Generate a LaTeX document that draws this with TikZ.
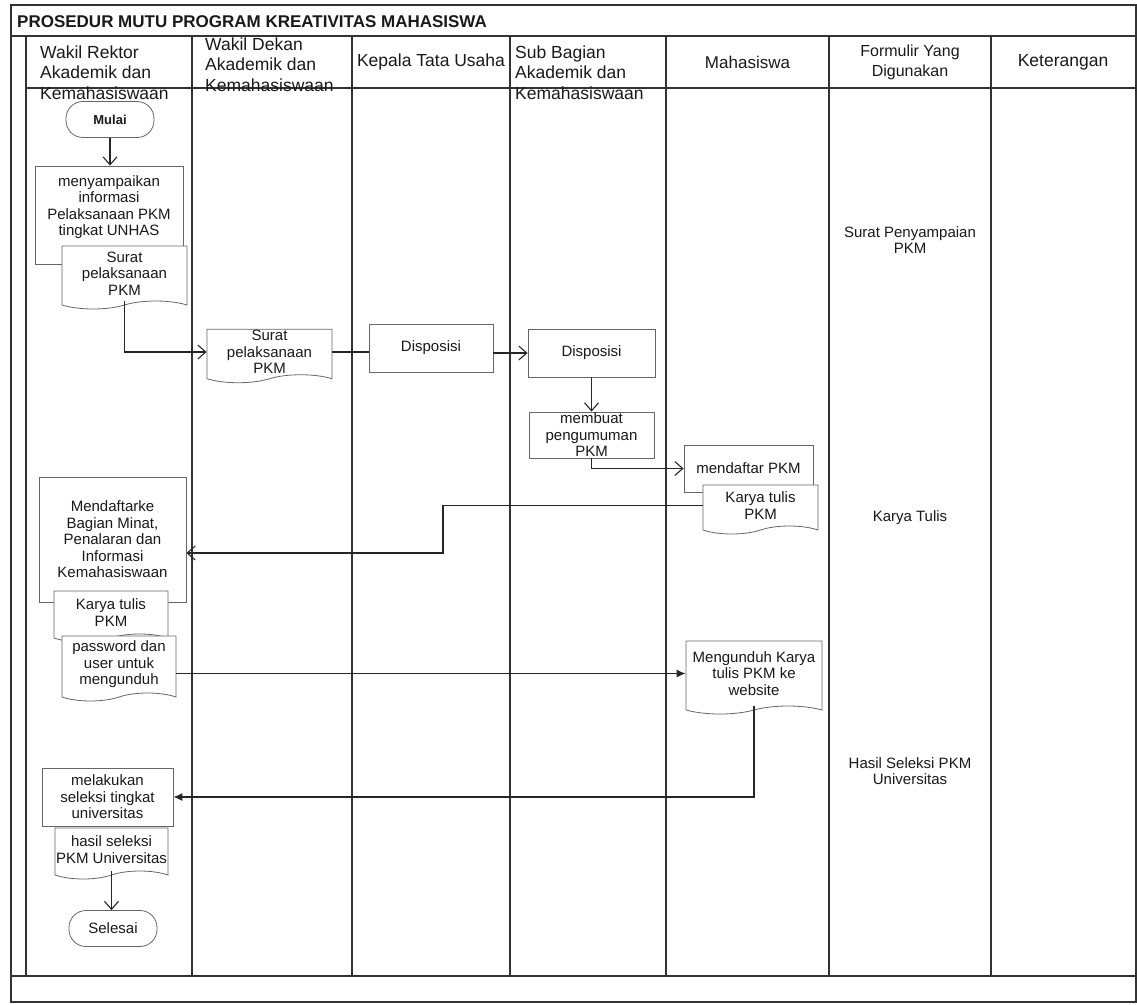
\documentclass[tikz,border=0pt]{standalone}
\usepackage{fontspec}
\setmainfont{Liberation Sans}
\usetikzlibrary{arrows.meta,shapes.symbols}

\begin{document}
\begin{tikzpicture}[x=1pt,y=-1pt,
  lane/.style={line width=1.2pt,draw=black!80},
  head/.style={inner sep=0pt,font=\fontsize{17.5}{20.5}\selectfont,text=black!90},
  proc/.style={draw=black!60,fill=white,line width=0.8pt,inner sep=1pt,align=center,
    font=\fontsize{15}{16.5}\selectfont,text=black!90},
  docu/.style={proc,tape,tape bend top=none,tape bend height=8pt},
  term/.style={proc,rounded corners=17pt,minimum width=88pt,minimum height=36pt},
  link/.style={line width=1.1pt,draw=black!85},
  flow/.style={link,-{Straight Barb[length=8pt,width=14pt]}},
  flowf/.style={link,-{Latex[length=9pt,width=8pt]}},
  note/.style={align=center,inner sep=0pt,font=\fontsize{15}{16.5}\selectfont,text=black!90}]
\useasboundingbox (0,0) rectangle (1137,1004);

% frame and lanes
\draw[lane] (11,5) rectangle (1136,1002);
\draw[lane] (11,36) -- (1136,36);
\draw[lane] (26,88) -- (1136,88);
\draw[lane] (11,976) -- (1136,976);
\foreach \x in {26,192,352,510,666,829,991}
  \draw[lane] (\x,36) -- (\x,976);

\node[anchor=base west,inner sep=0pt,text=black!90,
  font=\fontsize{17}{18}\selectfont\bfseries] (title) at (17,27)
  {PROSEDUR MUTU PROGRAM KREATIVITAS MAHASISWA};

% headers
\node[head,anchor=north west,align=left] (hrektor) at (40,45.5) {Wakil Rektor\\Akademik dan\\Kemahasiswaan};
\node[head,anchor=north west,align=left] (hdekan) at (205,37.5) {Wakil Dekan\\Akademik dan\\Kemahasiswaan};
\node[head] (hkepala) at (431,62) {Kepala Tata Usaha};
\node[head,anchor=north west,align=left] (hsubbag) at (515,45.5) {Sub Bagian\\Akademik dan\\Kemahasiswaan};
\node[head,font=\fontsize{17}{20}\selectfont] (hmhs) at (747.5,62) {Mahasiswa};
\node[head,align=center,font=\fontsize{16}{20}\selectfont] (hform) at (910,62) {Formulir Yang\\Digunakan};
\node[head] (hket) at (1063,62) {Keterangan};

% flow
\node[term,font=\fontsize{13}{15}\selectfont\bfseries] (mulai) at (110,119.5) {Mulai};
\node[proc,minimum width=148pt,minimum height=98pt] (info) at (109,215)
  {menyampaikan\\informasi\\Pelaksanaan PKM\\tingkat UNHAS\\[2pt]~};
\node[docu,minimum width=125pt,minimum height=63pt] (surat1) at (124.5,273.5) {Surat\\pelaksanaan\\PKM};
\node[docu,minimum width=125pt,minimum height=52pt] (surat2) at (269.5,352) {Surat\\pelaksanaan\\PKM};
\node[proc,minimum width=124pt,minimum height=48pt] (dispo1) at (431,348) {Disposisi};
\node[proc,minimum width=127pt,minimum height=48pt] (dispo2) at (591.5,353) {Disposisi};
\node[proc,minimum width=125pt,minimum height=46pt] (umum) at (591.5,435) {membuat\\pengumuman\\PKM};
\node[proc,minimum width=129pt,minimum height=47pt] (daftar) at (748.5,468.5) {mendaftar PKM};
\node[docu,minimum width=115pt,minimum height=49pt] (karya2) at (760.5,505.5) {Karya tulis\\PKM};
\node[proc,minimum width=147pt,minimum height=125pt] (daftarke) at (112.5,539.5)
  {Mendaftarke\\Bagian Minat,\\Penalaran dan\\Informasi\\Kemahasiswaan};
\node[docu,minimum width=114pt,minimum height=51pt] (karya1) at (111,612.5) {Karya tulis\\PKM};
\node[docu,minimum width=114pt,minimum height=65pt] (sandi) at (119,664.5) {password dan\\user untuk\\mengunduh};
\node[docu,minimum width=136pt,minimum height=73pt] (unduh) at (754,673.5) {Mengunduh Karya\\tulis PKM ke\\website};
\node[proc,minimum width=131pt,minimum height=58pt] (seleksi) at (107.5,797) {melakukan\\seleksi tingkat\\universitas};
\node[docu,minimum width=113pt,minimum height=51pt] (hasil) at (111.5,849.5) {hasil seleksi\\PKM Universitas};
\node[term] (selesai) at (113,928.5) {Selesai};

% formulir
\node[note] (fsurat) at (910,240) {Surat Penyampaian\\PKM};
\node[note] (fkarya) at (910,518) {Karya Tulis};
\node[note] (fhasil) at (910,771) {Hasil Seleksi PKM\\Universitas};

% connectors
\draw[flow] (mulai.south) -- (mulai.south |- info.north);
\draw[flow] (surat1.south) |- (surat2.west);
\draw[link] (surat2.east) -- (surat2.east -| dispo1.west);
\draw[flow] (dispo1.east |- dispo2.west) -- (dispo2.west);
\draw[flow] (dispo2.south) -- (umum.north);
\draw[flow] (umum.south) |- (daftar.west);
\coordinate (belok) at (443,553);
\draw[flow] (karya2.west) -| (belok) -- (belok -| daftarke.east);
\draw[flowf] (sandi.east |- unduh.west) -- (unduh.west);
\draw[flowf] (unduh.south) |- (seleksi.east);
\draw[flow] (hasil.south) -- (hasil.south |- selesai.north);
\end{tikzpicture}
\end{document}
